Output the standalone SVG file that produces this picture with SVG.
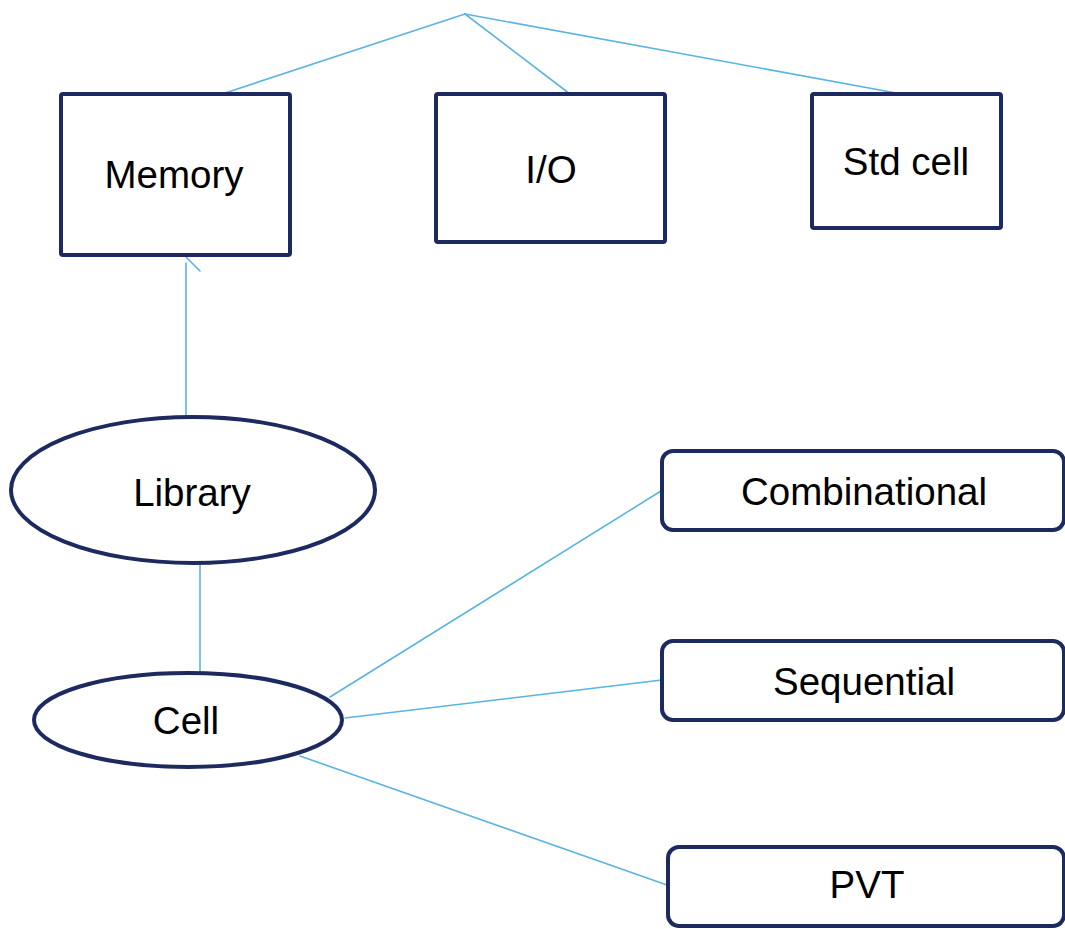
<svg xmlns="http://www.w3.org/2000/svg" width="1065" height="929" viewBox="0 0 1065 929">
  <style>
    .box { fill: #ffffff; stroke: #1c2a5f; stroke-width: 4; }
    .lbl { font-family: "Liberation Sans", Arial, sans-serif; font-size: 38.5px; fill: #000000; text-anchor: middle; }
    .link { stroke: #5ab4e2; stroke-width: 1.6; fill: none; stroke-linecap: round; }
  </style>
  <rect width="1065" height="929" fill="#ffffff"/>

  <!-- connectors -->
  <g id="connectors">
    <line class="link" x1="465" y1="14" x2="222" y2="94"/>
    <line class="link" x1="465" y1="14" x2="570" y2="94"/>
    <line class="link" x1="465" y1="14" x2="907" y2="95"/>
    <line class="link" x1="186" y1="416" x2="186" y2="263"/>
    <line class="link" x1="186" y1="257" x2="200" y2="271"/>
    <line class="link" x1="200" y1="564" x2="200" y2="673"/>
    <line class="link" x1="330" y1="697" x2="661" y2="491"/>
    <line class="link" x1="345" y1="718" x2="662" y2="680"/>
    <line class="link" x1="300" y1="756" x2="667" y2="885"/>
  </g>

  <!-- nodes -->
  <g id="memory">
    <rect class="box" x="61" y="94" width="229" height="161" rx="2"/>
    <text class="lbl" x="174" y="188">Memory</text>
  </g>
  <g id="io">
    <rect class="box" x="436" y="94" width="229" height="148" rx="2"/>
    <text class="lbl" x="551" y="183">I/O</text>
  </g>
  <g id="stdcell">
    <rect class="box" x="812" y="94" width="189" height="134" rx="2"/>
    <text class="lbl" x="906" y="175">Std cell</text>
  </g>
  <g id="library">
    <ellipse class="box" cx="193" cy="490" rx="182" ry="73"/>
    <text class="lbl" x="192" y="506">Library</text>
  </g>
  <g id="cell">
    <ellipse class="box" cx="188" cy="720" rx="154" ry="47"/>
    <text class="lbl" x="186" y="734">Cell</text>
  </g>
  <g id="combinational">
    <rect class="box" x="662" y="451" width="402" height="79" rx="11"/>
    <text class="lbl" x="864" y="505">Combinational</text>
  </g>
  <g id="sequential">
    <rect class="box" x="662" y="641" width="402" height="79" rx="11"/>
    <text class="lbl" x="864" y="695">Sequential</text>
  </g>
  <g id="pvt">
    <rect class="box" x="668" y="847" width="396" height="79" rx="11"/>
    <text class="lbl" x="867" y="898">PVT</text>
  </g>
</svg>
